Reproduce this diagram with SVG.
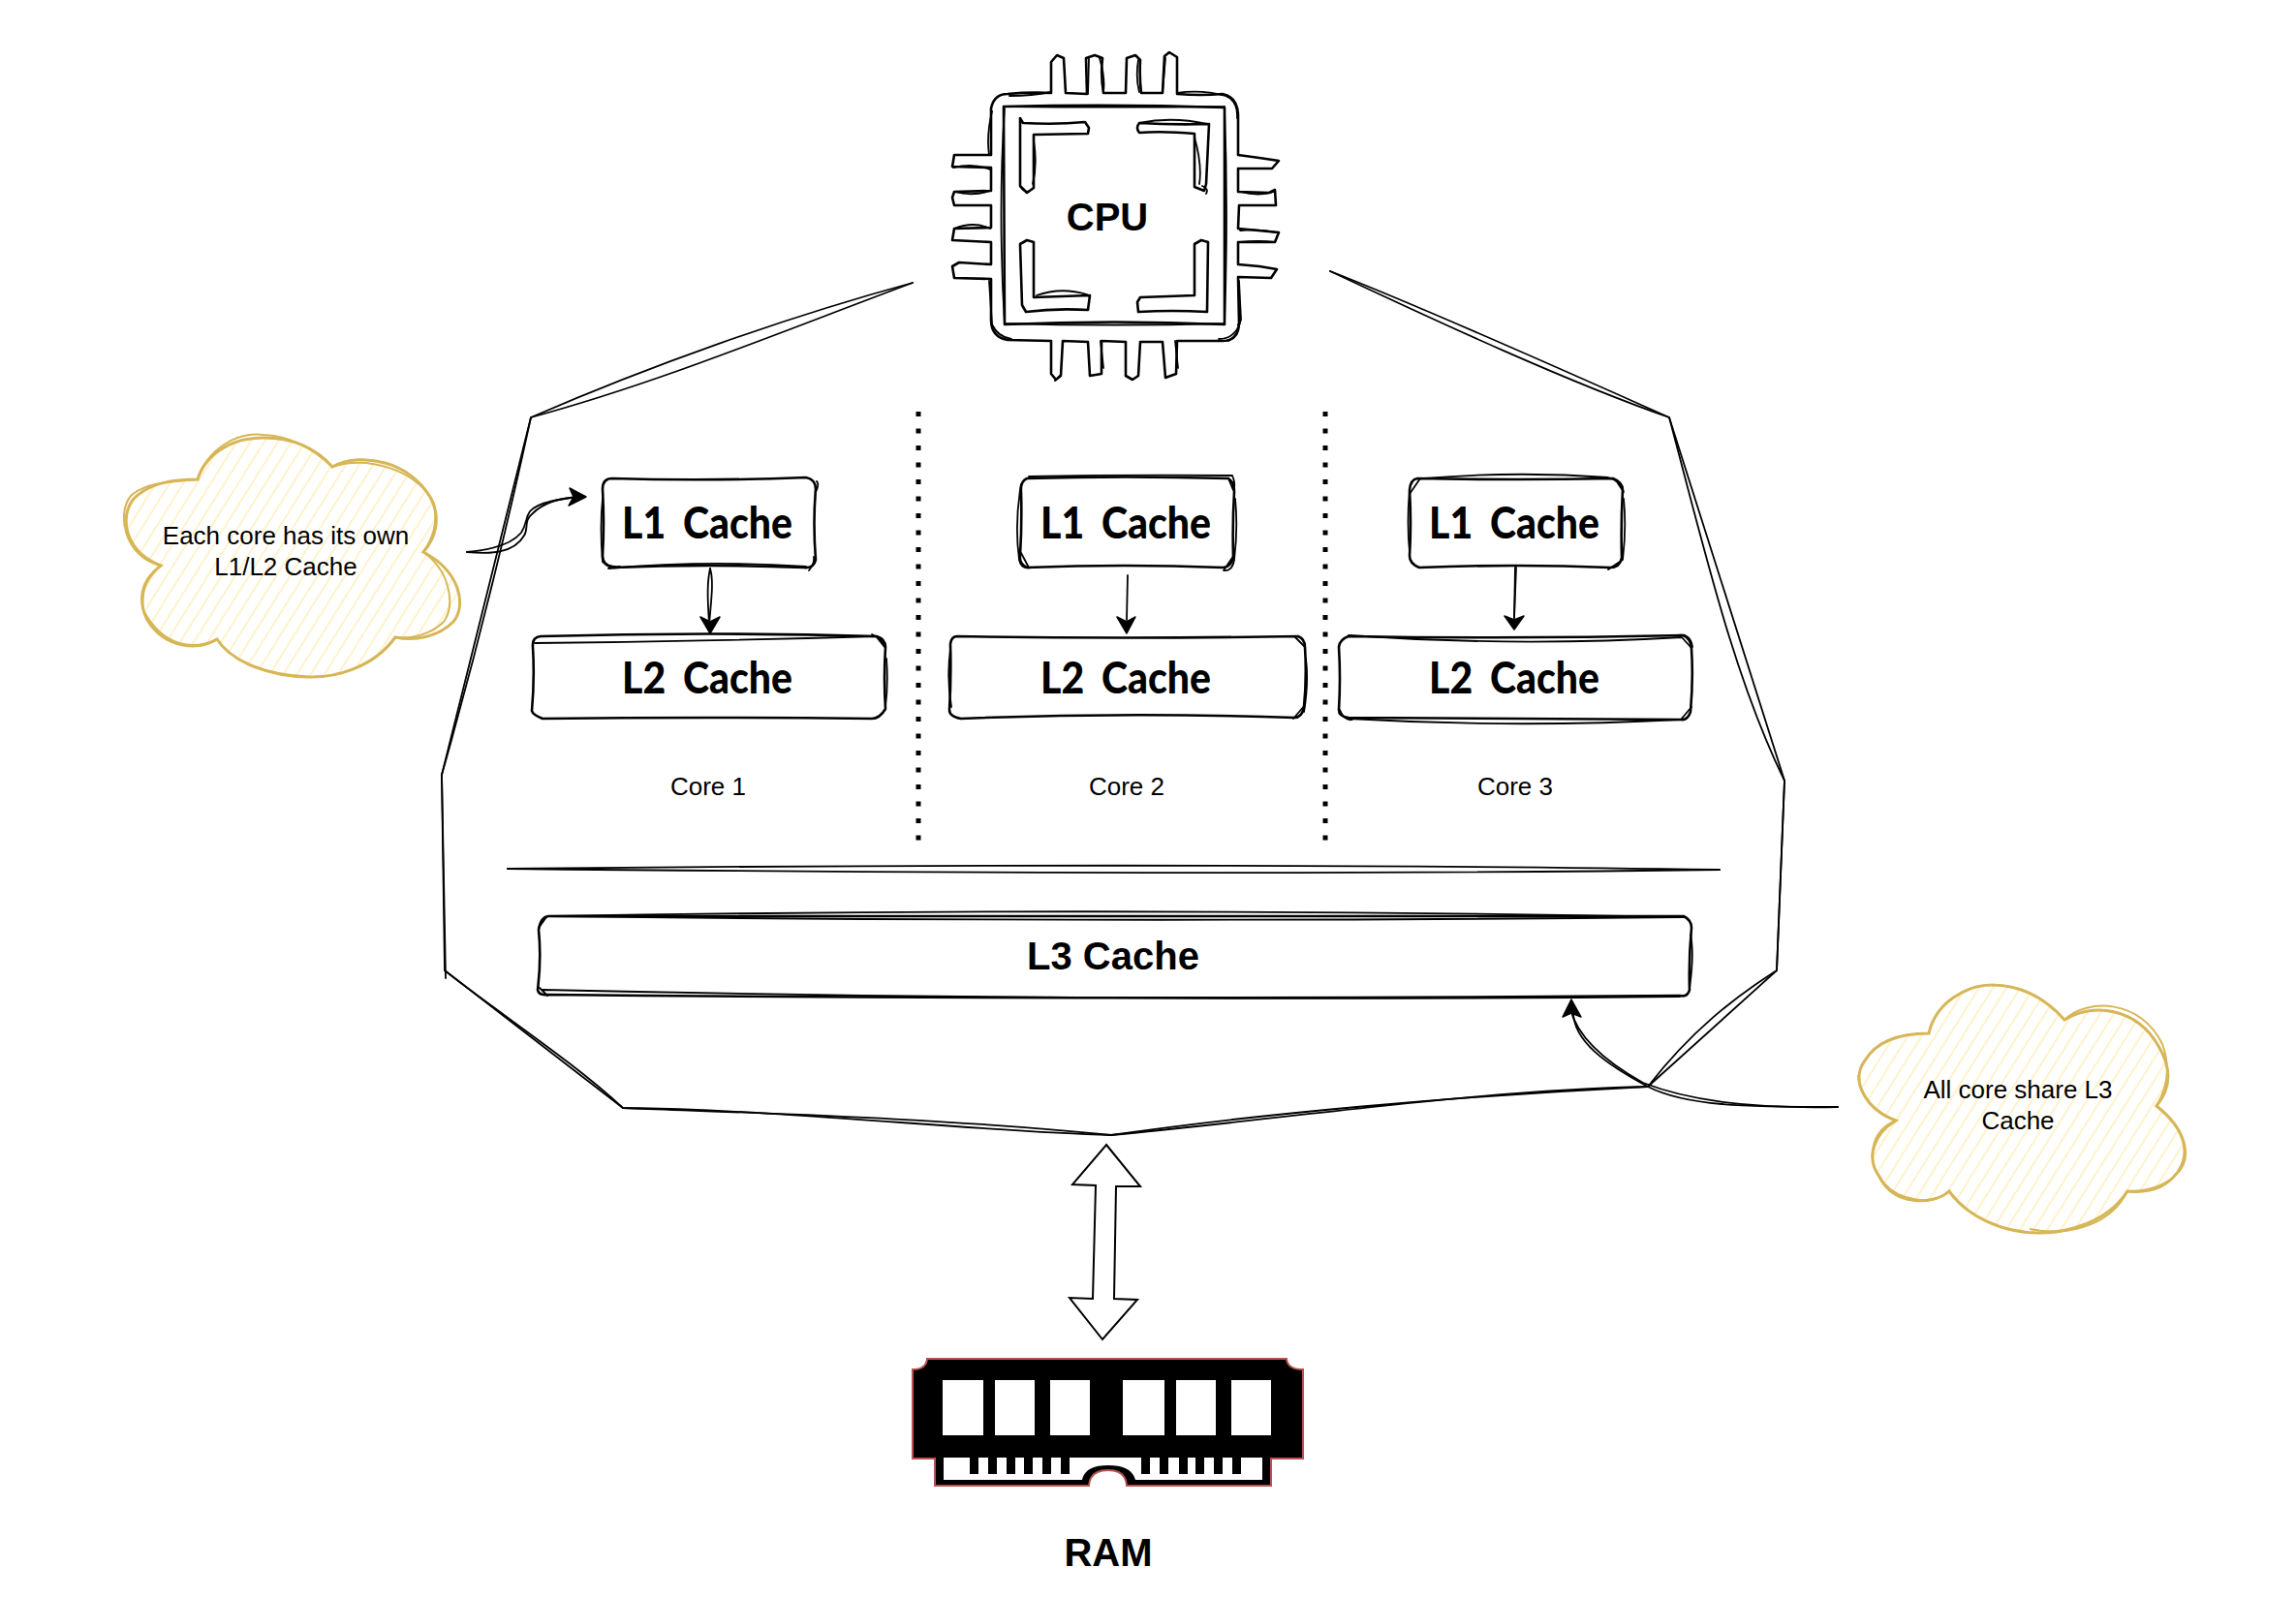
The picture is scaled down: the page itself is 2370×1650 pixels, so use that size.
<svg xmlns="http://www.w3.org/2000/svg" width="2370" height="1650" viewBox="0 0 2370 1650">
<style>
.s{fill:none;stroke:#000;stroke-width:2.6;stroke-linejoin:round;stroke-linecap:round}
.t{fill:none;stroke:#000;stroke-width:1.8;stroke-linejoin:round;stroke-linecap:round}
.h{fill:#000;stroke:#000;stroke-width:1.5;stroke-linejoin:round}
.cl{fill:url(#hach)}
.clo{fill:none;stroke:#d6b656;stroke-width:3}
.clt{fill:none;stroke:#d6b656;stroke-width:2}
.n{font-family:"Liberation Sans",Arial,sans-serif;font-size:26px;fill:#000;text-anchor:middle}
.b{font-family:"Liberation Sans",Arial,sans-serif;font-size:40px;font-weight:bold;fill:#000;text-anchor:middle}
.c{font-family:"Lato","Liberation Sans",sans-serif;font-size:45px;font-weight:900;fill:#000;word-spacing:9px}
</style>
<defs>
<pattern id="hach" width="12" height="12" patternUnits="userSpaceOnUse" patternTransform="rotate(32)">
<rect width="12" height="12" fill="#fff"/>
<line x1="5" y1="0" x2="5" y2="12" stroke="#fff2cc" stroke-width="2"/>
</pattern>
</defs>
<rect width="2370" height="1650" fill="#fff"/>

<g id="cpu-boundary">
<path class="t" d="M942 292 C810 328 670 378 548 431 L456 800 L459 1002 L643 1144 C800 1150 980 1155 1147 1172 C1300 1150 1500 1132 1701 1122 L1834 1002 L1842 806 L1723 431 C1620 385 1480 322 1373 280"/>
<path class="t" d="M942 292 C800 345 680 395 548 431 C520 560 490 680 456 800 L460 1010 M459 1002 C520 1050 590 1095 643 1144 C820 1146 1000 1168 1147 1172 C1320 1156 1520 1126 1701 1122 C1745 1065 1790 1030 1834 1002 L1842 806 C1790 700 1760 570 1723 431 C1620 395 1490 335 1373 280"/>
</g>

<g id="divider">
<path class="t" d="M524 897 C900 893 1400 892 1775 898"/>
<path class="t" d="M524 897 C900 901 1400 903 1775 898"/>
<line x1="948" y1="425" x2="948" y2="870" stroke="#000" stroke-width="5" stroke-dasharray="5 12.5"/>
<line x1="1368" y1="425" x2="1368" y2="870" stroke="#000" stroke-width="5" stroke-dasharray="5 12.5"/>
</g>

<g id="cpu">
<path class="s" d="M1040 97 Q1062 95 1085 96 L1085 64 L1091 57 L1098 60 L1100 96 L1122 97 L1121 60 L1130 57 L1138 60 Q1136 78 1139 96 L1162 96 L1163 60 L1172 57 L1177 62 Q1176 80 1178 96 L1200 96 L1202 58 L1207 54 L1215 59 L1215 97 Q1240 99 1262 97 Q1277 100 1278 118 L1278 160 L1300 163 L1320 166 L1313 174 L1278 174 L1278 198 L1310 199 L1316 196 L1317 212 L1279 212 L1278 236 L1320 240 L1316 250 L1278 250 L1278 273 L1300 275 L1318 278 L1312 287 L1278 286 L1279 335 Q1278 352 1262 352 L1215 352 L1214 386 L1203 390 L1200 353 L1177 353 L1175 388 L1169 392 L1162 388 L1162 353 L1137 352 L1137 386 L1125 388 L1123 353 L1097 352 L1095 388 L1090 392 L1085 386 L1085 352 L1040 351 Q1023 348 1023 330 L1023 288 L985 287 L983 275 L990 271 L1023 273 L1023 250 L983 248 L985 236 L1023 235 L1023 212 L985 212 L983 204 L985 198 L1023 197 L1023 173 L983 172 L985 160 L1023 160 L1023 112 Q1026 97 1040 97 Z"/>
<path class="t" d="M1042 99 Q1065 99 1085 95 M1215 96 Q1240 92 1265 99 Q1278 104 1277 122 M1279 290 L1281 330 Q1276 350 1258 350 M1024 115 Q1018 140 1021 160 M1021 290 L1024 335 Q1030 348 1044 350 M1123 97 L1124 60 M1135 60 Q1141 80 1139 95 M1175 62 Q1172 80 1176 95 M1200 95 L1203 60 M1136 352 L1139 380 M1213 352 L1216 380 M984 173 Q1005 168 1022 175 M985 198 Q1005 203 1022 197 M985 236 Q1005 228 1022 236 M1280 198 Q1300 203 1315 198 M1280 238 Q1300 236 1317 240 M1280 250 Q1300 248 1315 250 M1094 388 L1089 393 M1268 352 Q1280 345 1278 335"/>
<path class="s" d="M1036 110 Q1150 107 1264 111 L1264 335 Q1150 330 1037 335 Z"/>
<path class="t" d="M1037 110 Q1030 220 1037 335 M1036 110 Q1150 111 1264 110 M1264 110 Q1268 220 1264 335 M1037 334 Q1150 337 1264 334"/>
<path class="s" d="M1053 122 L1056 127 Q1090 129 1120 126 L1124 132 L1123 138 L1067 139 L1067 194 L1060 199 L1053 192 Z"/>
<path class="s" d="M1176 127 Q1210 129 1248 128 L1245 190 L1243 197 L1233 193 L1233 138 Q1200 135 1176 137 Q1172 132 1176 127 Z"/>
<path class="s" d="M1053 252 L1060 248 L1067 250 L1067 307 L1125 305 L1123 320 Q1090 318 1059 322 L1055 315 Z"/>
<path class="s" d="M1233 252 L1240 248 L1247 250 L1246 322 Q1210 320 1175 322 L1174 312 L1177 307 L1233 305 Z"/>
<path class="t" d="M1176 127 Q1210 120 1246 128 M1067 145 Q1071 170 1066 190 M1233 142 Q1241 170 1238 190 M1070 305 Q1095 296 1122 304 M1241 192 Q1248 195 1245 200 M1053 192 Q1056 198 1062 198"/>
<text class="b" x="1143" y="238">CPU</text>
</g>

<g id="core1-l1">
<path class="s" d="M632 494 Q730 497 832 493 Q842 495 842 505 Q839 540 842 578 Q840 587 830 586 Q730 582 634 586 Q622 584 622 574 Q624 540 622 505 Q622 494 632 494 Z"/>
<path class="t" d="M622 515 Q619 545 622 580 Q628 586 640 585 M628 587 Q730 578 832 585 M843 497 Q846 500 842 508 M840 575 Q841 582 835 589"/>
<text class="c" x="642" y="556" textLength="176" lengthAdjust="spacingAndGlyphs" xml:space="preserve">L1 Cache</text>
</g>
<g id="core1-l2">
<path class="s" d="M558 657 Q730 652 905 657 Q914 660 914 668 Q912 700 914 732 Q908 742 900 742 Q730 740 560 742 Q550 738 549 734 Q552 700 550 668 Q549 658 558 657 Z"/>
<path class="t" d="M552 664 Q730 662 905 657 M900 655 Q912 660 913 668 L905 658 M915 680 Q917 705 914 730"/>
<text class="c" x="642" y="716" textLength="176" lengthAdjust="spacingAndGlyphs" xml:space="preserve">L2 Cache</text>
</g>
<g id="core1-label"><text class="n" x="731" y="821">Core 1</text></g>

<g id="core2-l1">
<path class="s" d="M1060 494 Q1160 491 1268 494 Q1274 498 1274 508 Q1272 540 1273 576 Q1270 586 1262 586 Q1160 582 1060 586 Q1052 582 1053 574 Q1055 540 1054 508 Q1053 497 1060 494 Z"/>
<path class="t" d="M1062 492 Q1165 490 1272 491 Q1276 500 1273 506 L1268 494 M1054 500 Q1047 540 1052 578 Q1054 588 1064 586 M1054 571 L1062 586 M1275 515 Q1278 545 1274 578 Q1272 590 1263 589 L1274 573"/>
<text class="c" x="1074" y="556" textLength="176" lengthAdjust="spacingAndGlyphs" xml:space="preserve">L1 Cache</text>
</g>
<g id="core2-l2">
<path class="s" d="M988 657 Q1160 660 1340 657 Q1347 660 1347 668 Q1349 700 1346 730 Q1344 741 1336 741 Q1160 735 992 742 Q980 740 980 733 Q982 700 981 665 Q982 657 988 657 Z"/>
<path class="t" d="M981 670 Q977 700 982 730 M1348 680 Q1351 705 1346 735 M1335 742 L1347 728 M1336 657 L1347 668"/>
<text class="c" x="1074" y="716" textLength="176" lengthAdjust="spacingAndGlyphs" xml:space="preserve">L2 Cache</text>
</g>
<g id="core2-label"><text class="n" x="1163" y="821">Core 2</text></g>

<g id="core3-l1">
<path class="s" d="M1463 494 Q1565 496 1665 494 Q1675 498 1675 506 Q1673 540 1674 576 Q1672 586 1662 586 Q1565 582 1465 586 Q1455 582 1455 574 Q1457 540 1455 506 Q1456 495 1463 494 Z"/>
<path class="t" d="M1470 494 Q1565 486 1660 493 Q1672 496 1676 508 L1668 496 M1455 510 L1466 494 M1676 515 Q1679 545 1675 578 L1660 588 M1455 505 Q1452 540 1455 570"/>
<text class="c" x="1475" y="556" textLength="176" lengthAdjust="spacingAndGlyphs" xml:space="preserve">L1 Cache</text>
</g>
<g id="core3-l2">
<path class="s" d="M1392 657 Q1565 660 1738 656 Q1746 660 1746 670 Q1748 700 1745 735 Q1742 744 1735 743 Q1565 742 1392 741 Q1382 740 1382 733 Q1384 700 1382 668 Q1383 660 1392 657 Z"/>
<path class="t" d="M1392 656 Q1565 668 1736 658 L1745 668 M1732 656 Q1745 654 1747 668 M1392 742 Q1565 752 1735 743 L1746 730 M1383 733 Q1388 745 1396 743"/>
<text class="c" x="1475" y="716" textLength="176" lengthAdjust="spacingAndGlyphs" xml:space="preserve">L2 Cache</text>
</g>
<g id="core3-label"><text class="n" x="1564" y="821">Core 3</text></g>

<g id="l3">
<path class="s" d="M566 946 Q1150 948 1738 946 Q1746 950 1746 958 Q1743 990 1744 1022 Q1742 1030 1734 1028 Q1150 1033 565 1027 Q556 1028 555 1022 Q559 990 556 960 Q558 947 566 946 Z"/>
<path class="t" d="M566 946 Q1150 936 1738 947 M566 946 Q1150 953 1735 947 M560 1022 Q1150 1035 1734 1029 M1745 965 Q1749 985 1744 1020 M557 1020 L565 1028 M556 958 L564 947"/>
<text class="b" x="1149" y="1001">L3 Cache</text>
</g>

<g id="double-arrow">
<path d="M1142 1182 L1177 1225 L1152 1225 L1150 1341 L1174 1342 L1138 1383 L1104 1340 L1128 1341 L1131 1224 L1107 1223 Z" fill="#fff" stroke="#000" stroke-width="2" stroke-linejoin="miter"/>
</g>

<g id="ram">
<path d="M957 1403 L1328 1403 Q1329 1414 1345 1414 L1345 1506 L1312 1506 L1312 1534 L1163 1534 Q1162 1518 1144 1518 Q1125 1518 1124 1534 L965 1534 L965 1506 L942 1506 L942 1414 Q956 1414 957 1403 Z" fill="#000" stroke="#b85450" stroke-width="2"/>
<g fill="#fff">
<rect x="973" y="1425" width="42" height="57"/>
<rect x="1027" y="1425" width="41" height="57"/>
<rect x="1084" y="1425" width="41" height="57"/>
<rect x="1159" y="1425" width="43" height="57"/>
<rect x="1214" y="1425" width="41" height="57"/>
<rect x="1271" y="1425" width="41" height="57"/>
<path d="M974 1505 L1303 1505 L1303 1528 L1172 1528 Q1168 1513 1144 1513 Q1120 1513 1117 1528 L974 1528 Z"/>
</g>
<g fill="#000">
<rect x="1001" y="1505" width="9" height="17"/><rect x="1020" y="1505" width="9" height="17"/><rect x="1039" y="1505" width="9" height="17"/><rect x="1057" y="1505" width="9" height="17"/><rect x="1076" y="1505" width="9" height="17"/><rect x="1095" y="1505" width="9" height="17"/>
<rect x="1178" y="1505" width="9" height="17"/><rect x="1197" y="1505" width="9" height="17"/><rect x="1217" y="1505" width="9" height="17"/><rect x="1234" y="1505" width="9" height="17"/><rect x="1253" y="1505" width="9" height="17"/><rect x="1272" y="1505" width="9" height="17"/>
</g>
<text class="b" x="1144" y="1617">RAM</text>
</g>

<g id="note-core">
<path class="cl" d="M204 495 C212 468 240 452 272 452 C305 452 328 465 343 482 C375 465 425 478 445 515 C455 535 450 555 437 570 C475 590 482 625 468 642 C452 658 428 662 408 658 C385 690 345 700 318 699 C280 698 240 685 224 660 C205 672 170 670 152 640 C142 620 145 600 166 584 C130 570 122 535 138 515 C155 498 180 495 204 495 Z"/>
<path class="clo" d="M204 495 C212 468 240 452 272 452 C305 452 328 465 343 482 C375 465 425 478 445 515 C455 535 450 555 437 570 C475 590 482 625 468 642 C452 658 428 662 408 658 C385 690 345 700 318 699 C280 698 240 685 224 660 C205 672 170 670 152 640 C142 620 145 600 166 584 C130 570 122 535 138 515 C155 498 180 495 204 495 Z"/>
<path class="clt" d="M204 495 C215 462 245 446 272 449 C300 450 325 465 343 482 M343 482 C380 470 430 485 448 520 C452 540 447 555 437 570 M437 570 C465 590 470 625 458 642 C445 655 425 660 408 658 M224 660 C200 672 168 668 148 630 C146 610 150 598 166 584 M166 584 C128 575 120 530 135 512 C150 498 178 497 204 495"/>
<text class="n" x="295" y="562">Each core has its own</text>
<text class="n" x="295" y="594">L1/L2 Cache</text>
</g>

<g id="note-l3">
<path class="cl" d="M1991 1067 C1998 1035 2030 1017 2056 1017 C2090 1017 2115 1035 2131 1053 C2160 1035 2205 1040 2228 1080 C2243 1105 2240 1125 2226 1142 C2255 1165 2262 1190 2248 1210 C2235 1228 2215 1232 2196 1230 C2175 1262 2135 1273 2105 1273 C2065 1273 2030 1255 2012 1230 C1995 1245 1955 1245 1940 1215 C1925 1195 1935 1170 1957 1157 C1925 1145 1910 1115 1925 1095 C1940 1070 1970 1067 1991 1067 Z"/>
<path class="clo" d="M1991 1067 C1998 1035 2030 1017 2056 1017 C2090 1017 2115 1035 2131 1053 C2160 1035 2205 1040 2228 1080 C2243 1105 2240 1125 2226 1142 C2255 1165 2262 1190 2248 1210 C2235 1228 2215 1232 2196 1230 C2175 1262 2135 1273 2105 1273 C2065 1273 2030 1255 2012 1230 C1995 1245 1955 1245 1940 1215 C1925 1195 1935 1170 1957 1157 C1925 1145 1910 1115 1925 1095 C1940 1070 1970 1067 1991 1067 Z"/>
<path class="clt" d="M2131 1053 C2155 1030 2210 1032 2232 1078 C2240 1100 2238 1122 2226 1142 M2226 1142 C2262 1170 2262 1200 2245 1214 C2232 1226 2215 1230 2196 1230 M2196 1230 C2180 1262 2140 1278 2095 1269 M1957 1157 C1930 1168 1925 1200 1945 1222 C1960 1240 1995 1245 2012 1230 M1918 1110 C1918 1130 1935 1150 1957 1157"/>
<text class="n" x="2083" y="1134">All core share L3</text>
<text class="n" x="2083" y="1166">Cache</text>
</g>

<g id="connectors">
<path class="t" d="M733 587 C737 600 734 620 732 645"/><path class="t" d="M733 587 C729 605 731 625 732 645"/>
<path class="h" d="M733 654 L723 637 L733 642 L743 637 Z"/>
<path class="t" d="M1164 594 L1163 640"/>
<path class="h" d="M1163 654 L1153 637 L1163 642 L1172 637 Z"/>
<path class="t" d="M1564 586 L1563 638"/><path class="t" d="M1565 586 L1563 638"/>
<path class="h" d="M1563 650 L1553 636 L1563 640 L1573 636 Z"/>
<path class="t" d="M482 570 C505 572 530 572 541 553 C546 545 540 538 550 530 C562 518 580 514 598 513"/>
<path class="t" d="M482 570 C505 568 528 562 538 550 C544 541 542 535 547 528 C556 518 580 515 598 513"/>
<path class="h" d="M605 513 L588 504 L592 513 L587 522 Z"/>
<path class="t" d="M1897 1143 C1800 1143 1740 1142 1701 1122 C1660 1100 1622 1075 1624 1042"/>
<path class="t" d="M1897 1143 C1800 1145 1740 1135 1696 1118 C1655 1095 1628 1070 1621 1042"/>
<path class="h" d="M1622 1032 L1613 1050 L1622 1046 L1632 1050 Z"/>
</g>
</svg>
